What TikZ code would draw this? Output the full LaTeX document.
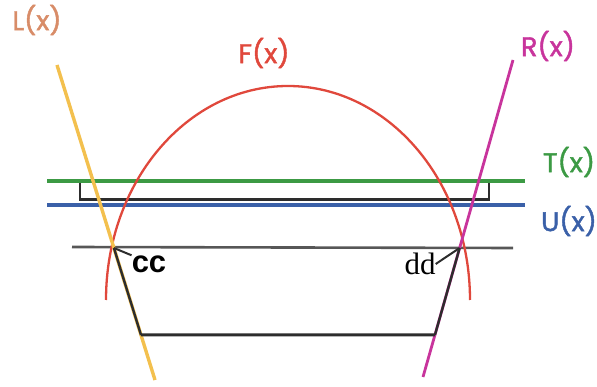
\documentclass[tikz,border=0pt]{standalone}
\usepackage{fontspec}
\setmainfont{Poppins}
\newfontfamily\labelfont{Poppins}[FakeBold=1.6]
\newfontfamily\ccfont{Liberation Sans}
\newfontfamily\ddfont{Liberation Serif}
\usetikzlibrary{calc}
\definecolor{lineL}{RGB}{243,192,78}
\definecolor{textL}{RGB}{216,140,104}
\definecolor{curveF}{RGB}{224,72,60}
\definecolor{lineR}{RGB}{200,52,156}
\definecolor{lineT}{RGB}{60,154,68}
\definecolor{lineU}{RGB}{58,96,168}
\definecolor{darkline}{RGB}{45,45,45}

\begin{document}
\begin{tikzpicture}[x=1pt, y=-1pt,
  curvelabel/.style={inner sep=0pt, font=\labelfont\fontsize{27}{27}\selectfont},
  guide/.style={line width=2.4pt, draw=darkline},
  tick/.style={line width=2pt, draw=darkline}
]
  \useasboundingbox (0,0) rectangle (597,387);

  % end points of the straight lines
  \coordinate (Ltop) at (57,65);
  \coordinate (Lbot) at (155,380);
  \coordinate (Rtop) at (513,60);
  \coordinate (Rbot) at (423,377);
  \coordinate (Tleft) at (47,181);
  \coordinate (Tright) at (525,181);
  \coordinate (Uleft) at (47,205);
  \coordinate (Uright) at (525,205);
  \coordinate (Gleft) at (72,247);
  \coordinate (Gright) at (513,248);
  \coordinate (cc) at ($(Ltop)!0.581!(Lbot)$);
  \coordinate (dd) at ($(Rtop)!0.593!(Rbot)$);
  \coordinate (Lfoot) at ($(Ltop)!0.857!(Lbot)$);
  \coordinate (Rfoot) at ($(Rtop)!0.8675!(Rbot)$);

  % box under T(x)
  \draw[darkline, line width=1.8pt] (80,181) rectangle (489,200);
  \draw[darkline, line width=3pt] (80,200) -- (489,200);
  \draw[lineU, line width=3.5pt] (Uleft) -- (Uright);
  \draw[lineT, line width=4pt] (Tleft) -- (Tright);
  \draw[darkline!80, line width=2.6pt] (Gleft) -- (Gright);

  % F(x)
  \draw[curveF, line width=2.3pt] (106,300) arc[start angle=180, end angle=360,
    x radius=182, y radius=214];

  % L(x) and R(x)
  \draw[lineL, line width=3.4pt] (Ltop) -- (Lbot);
  \draw[lineR, line width=2.8pt] (Rtop) -- (Rbot);
  \draw[guide] (cc) -- (Lfoot);
  \draw[guide, line width=3pt] (Lfoot) -- (Rfoot);
  \draw[guide] (Rfoot) -- (dd);

  % labels
  \node[curvelabel, text=textL] (labL) at (37,20) {L(x)};
  \node[curvelabel, text=curveF] (labF) at (264,53) {F(x)};
  \node[curvelabel, text=lineR] (labR) at (548,46) {R(x)};
  \node[curvelabel, text=lineT] (labT) at (569,162) {T(x)};
  \node[curvelabel, text=lineU] (labU) at (569,221) {U(x)};

  \node[inner sep=0pt, font=\ccfont\bfseries\fontsize{31}{31}\selectfont] (labcc) at (149,264) {cc};
  \node[inner sep=0pt, font=\ddfont\fontsize{31}{31}\selectfont] (labdd) at (420,264) {dd};
  \draw[tick] (cc) -- (labcc.north west);
  \draw[tick] (dd) -- (labdd.east);
\end{tikzpicture}
\end{document}
